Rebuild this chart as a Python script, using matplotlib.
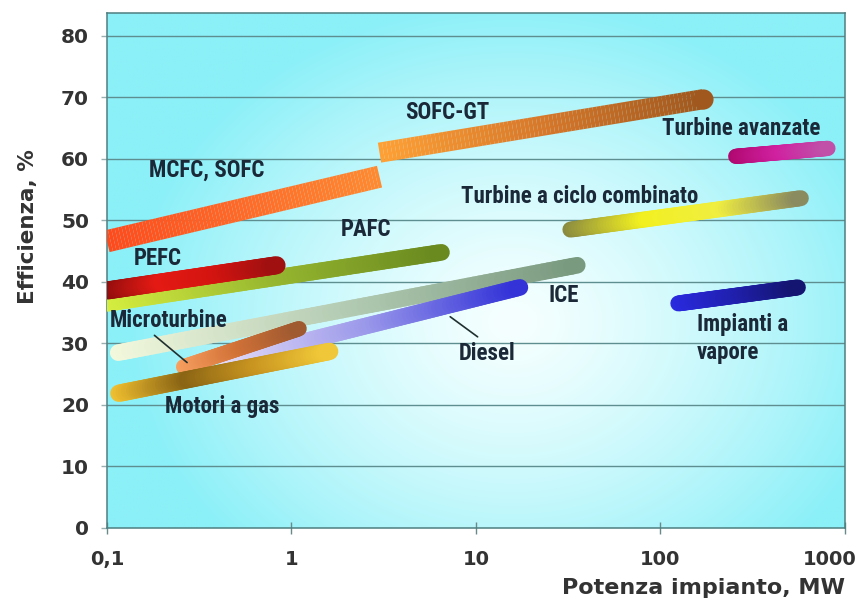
import numpy as np
import matplotlib
matplotlib.use("Agg")
import matplotlib.pyplot as plt
from matplotlib.collections import LineCollection
from matplotlib.colors import LinearSegmentedColormap, to_rgb
from matplotlib.transforms import ScaledTranslation
from matplotlib import font_manager

# ---------------- data ----------------
tech_names = ["PAFC", "PEFC", "ICE", "Diesel", "Microturbine", "Motori a gas",
              "MCFC, SOFC", "SOFC-GT", "Turbine a ciclo combinato",
              "Turbine avanzate", "Impianti a vapore"]
power_start = [0.1, 0.1, 0.115, 0.45, 0.26, 0.116, 0.1, 3.0, 32.5, 256, 125]   # MW
power_end = [6.5, 0.83, 35.4, 17.3, 1.1, 1.61, 3.0, 171, 577, 809, 556]         # MW
eff_start = [36.5, 38.6, 28.5, 27.2, 26.2, 21.9, 46.6, 61.0, 48.5, 60.4, 36.5]  # %
eff_end = [44.8, 42.7, 42.7, 39.1, 32.4, 28.7, 57.1, 69.7, 53.6, 61.7, 39.1]    # %

x_ticks = [0.1, 1, 10, 100, 1000]
x_tick_labels = ["0,1", "1", "10", "100", "1000"]
y_ticks = [0, 10, 20, 30, 40, 50, 60, 70, 80]

# ---------------- styles ----------------
band_colors = {
    "PAFC": ["#d8f040", "#98b830", "#6a8a20"],
    "PEFC": ["#8a0c0c", "#e41a14", "#d41410", "#a01010"],
    "ICE": ["#f2f8dc", "#b4ccb4", "#7a9a80"],
    "Diesel": ["#e4dcf8", "#9a98ea", "#3232d8"],
    "Microturbine": ["#f8a060", "#d27238", "#a05a30"],
    "Motori a gas": ["#f0c030", "#8a6414", "#c89420", "#f0c838"],
    "MCFC, SOFC": ["#ff4a1c", "#ff6a28", "#ff8a30"],
    "SOFC-GT": ["#ffa034", "#d8782a", "#a0581e"],
    "Turbine a ciclo combinato": ["#8a8a40", "#f2f020", "#f0ee40", "#8a8a60"],
    "Turbine avanzate": ["#b00870", "#d020a0", "#c050a8"],
    "Impianti a vapore": ["#2a2ae0", "#2020b0", "#141470"],
}
band_width = {
    "PAFC": 12, "PEFC": 13, "ICE": 12, "Diesel": 12, "Microturbine": 11,
    "Motori a gas": 12.5, "MCFC, SOFC": 16, "SOFC-GT": 14.5,
    "Turbine a ciclo combinato": 11.5, "Turbine avanzate": 11,
    "Impianti a vapore": 11.5,
}
band_cap = {"MCFC, SOFC": "butt", "SOFC-GT": "butt"}

labels_txt = ["MCFC, SOFC", "SOFC-GT", "PAFC", "PEFC", "Turbine avanzate",
              "Turbine a ciclo combinato", "ICE", "Microturbine", "Motori a gas",
              "Diesel", "Impianti a\nvapore"]
labels_x = [0.345, 6.95, 2.52, 0.189, 275, 36.7, 30, 0.215, 0.42, 11.5, 157]
labels_y = [58.1, 67.6, 48.5, 43.8, 64.9, 53.8, 37.8, 33.8, 19.7, 28.3, 30.8]
labels_ha = ["center"] * 10 + ["left"]

text_col = "#1a2838"
axis_col = "#333333"
grid_col = "#5e8e90"

avail = {f.name for f in font_manager.fontManager.ttflist}
narrow = [f for f in ["Liberation Sans Narrow", "Roboto Condensed",
                      "Open Sans Condensed"] if f in avail]
narrow_family = narrow[:1] + ["Liberation Sans", "DejaVu Sans"]
main_family = ["DejaVu Sans"]

fig = plt.figure(figsize=(8.61, 6.05), dpi=100)
ax = fig.add_axes([0.1243, 0.1273, 0.857, 0.8512])
ax.set_xscale("log")
ax.set_xlim(0.1, 1000)
ax.set_ylim(0, 83.7)

# radial background gradient
ny, nx = 300, 400
gx, gy = np.meshgrid(np.linspace(0, 1, nx), np.linspace(0, 1, ny))
r = np.sqrt(((gx - 0.55) / 0.52) ** 2 + ((gy - 0.40) / 0.62) ** 2)
r = np.clip(r, 0, 1) ** 1.3
c_in = np.array(to_rgb("#f6ffff"))
c_out = np.array(to_rgb("#8cf0f8"))
img = c_in[None, None, :] * (1 - r[..., None]) + c_out[None, None, :] * r[..., None]
ax.imshow(img, extent=(0, 1, 0, 1), transform=ax.transAxes, origin="lower",
          aspect="auto", zorder=0, interpolation="bilinear")

ax.set_yticks(y_ticks)
ax.set_xticks(x_ticks, labels=x_tick_labels)
ax.xaxis.set_minor_locator(matplotlib.ticker.NullLocator())
for y in y_ticks[1:]:
    ax.axhline(y, color=grid_col, lw=1.0, zorder=1)

for s in ax.spines.values():
    s.set_color("#4e7e80")
    s.set_linewidth(1.1)

ax.tick_params(axis="x", direction="inout", length=9, width=1, color="#6a8a8a",
               pad=11, labelsize=14)
ax.tick_params(axis="y", direction="out", length=4, width=1, color="#9ab0b0",
               pad=9, labelsize=14.5)
for lab in ax.get_xticklabels() + ax.get_yticklabels():
    lab.set_fontfamily(main_family)
    lab.set_fontweight("bold")
    lab.set_color(axis_col)
last = ax.get_xticklabels()[-1]
last.set_transform(last.get_transform() + ScaledTranslation(-0.15, 0, fig.dpi_scale_trans))

ax.set_ylabel("Efficienza, %", fontsize=15.5, fontweight="bold", color=axis_col,
              family=main_family, va="center")
ax.yaxis.set_label_coords(-0.107, 0.586)
ax.set_xlabel("Potenza impianto, MW", fontsize=16, fontweight="bold",
              color=axis_col, family=main_family, ha="right", va="center")
ax.xaxis.set_label_coords(1.0, -0.117)

# bands with colour gradients
t = np.linspace(0, 1, 81)
for z, (name, x0, x1, y0, y1) in enumerate(zip(tech_names, power_start, power_end,
                                               eff_start, eff_end)):
    lx = np.log10(x0) + t * (np.log10(x1) - np.log10(x0))
    xs = 10 ** lx
    ys = y0 + t * (y1 - y0)
    pts = np.column_stack([xs, ys])
    segs = np.stack([pts[:-1], pts[1:]], axis=1)
    cmap = LinearSegmentedColormap.from_list(name, band_colors[name])
    cols = cmap((t[:-1] + t[1:]) / 2)
    cap = band_cap.get(name, "round")
    lc = LineCollection(segs, colors=cols, linewidths=band_width[name],
                        capstyle=cap, joinstyle="round", zorder=3 + z * 0.1)
    ax.add_collection(lc)
    if name == "SOFC-GT":
        ax.scatter([x1], [y1], s=band_width[name] ** 2, color=cols[-1],
                   zorder=3 + z * 0.1, linewidths=0)

# labels
for txt, x, y, ha in zip(labels_txt, labels_x, labels_y, labels_ha):
    ax.text(x, y, txt, ha=ha, va="center", fontsize=16.5, fontweight="bold",
            color=text_col, family=narrow_family, zorder=6, linespacing=1.3)

# leader lines
ax.annotate("", xy=(0.279, 26.6), xytext=(0.176, 31.6),
            arrowprops=dict(arrowstyle="-", color="#203030", lw=1.2), zorder=6)
ax.annotate("", xy=(7.05, 34.6), xytext=(10.5, 30.8),
            arrowprops=dict(arrowstyle="-", color="#203030", lw=1.2), zorder=6)

fig.savefig("out.png", dpi=100, facecolor="white")
